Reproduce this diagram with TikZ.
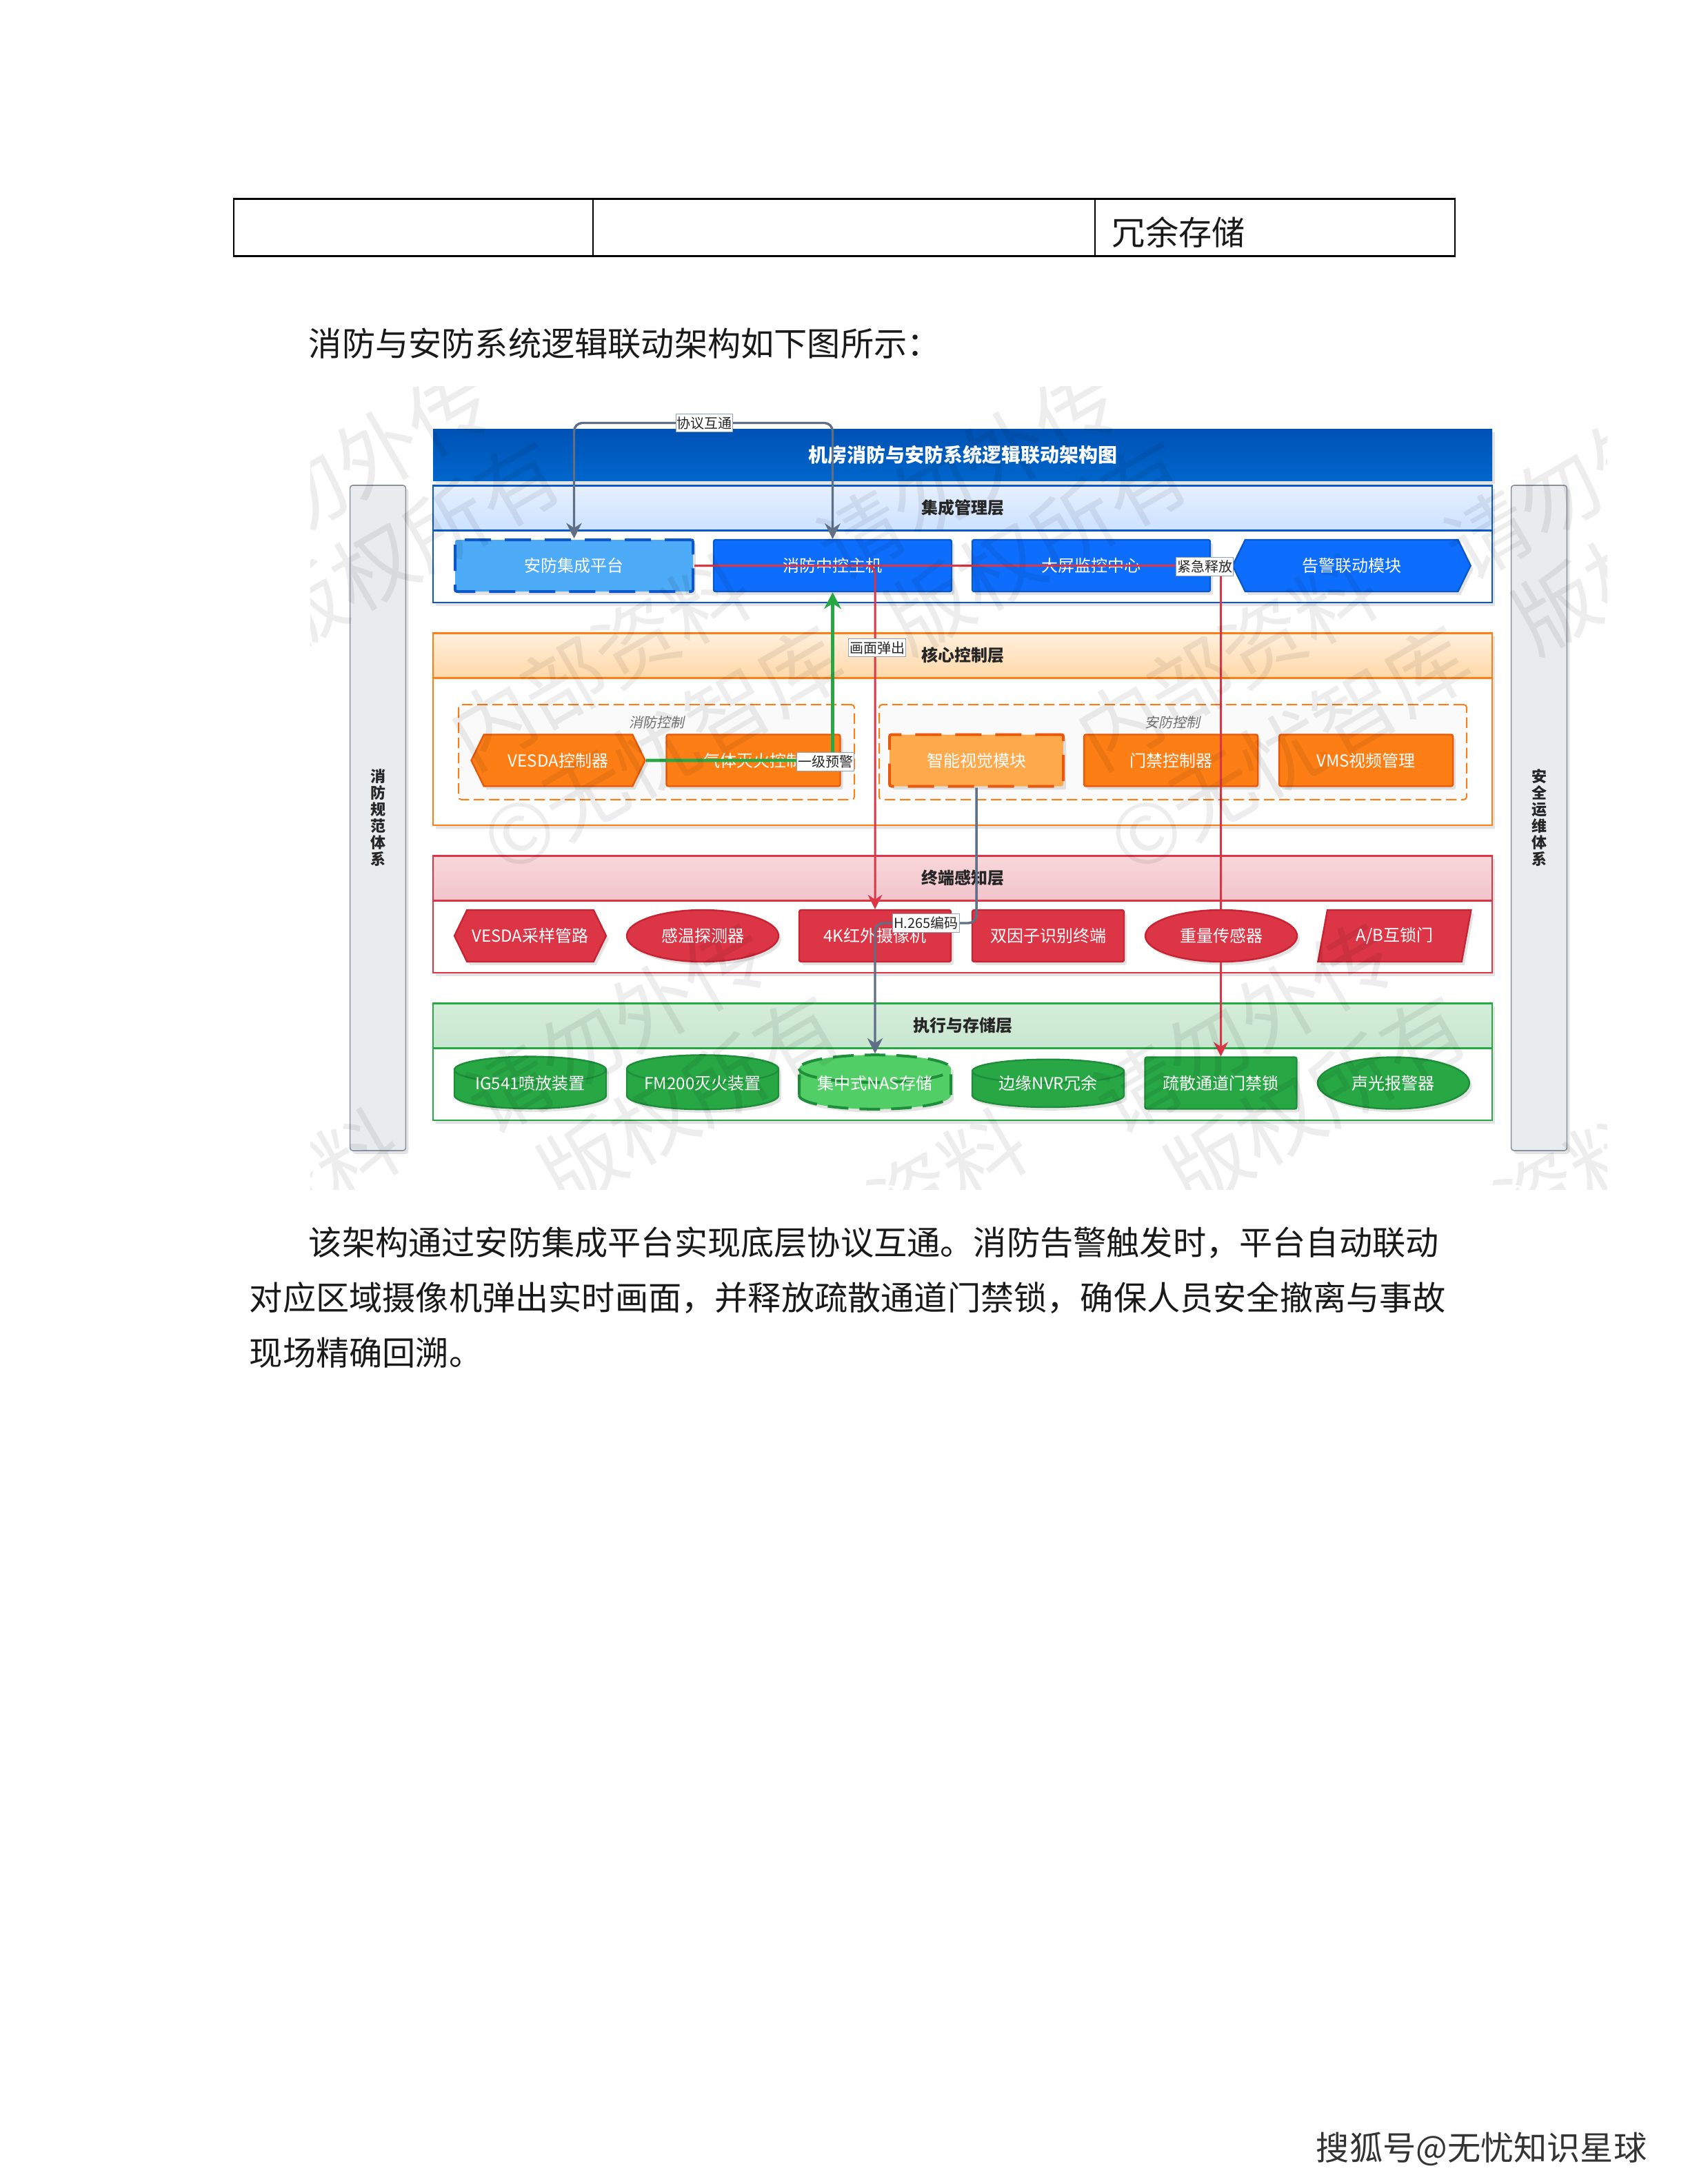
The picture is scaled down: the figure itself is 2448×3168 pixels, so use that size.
\documentclass[tikz,border=0pt]{standalone}
\usepackage{fontspec}
\setmainfont{Noto Sans CJK SC}
\newfontfamily\slantfont[FakeSlant=0.2]{Noto Sans CJK SC}
\usepackage{tikz}
\usetikzlibrary{shapes.geometric, shapes.symbols, arrows.meta, shadows}

\definecolor{bluefill}{HTML}{0D6EFD}
\definecolor{blueline}{HTML}{0A58CA}
\definecolor{bluelight}{HTML}{4DABF7}
\definecolor{orangefill}{HTML}{FD7E14}
\definecolor{orangeline}{HTML}{E8590C}
\definecolor{orangelight}{HTML}{FFA94D}
\definecolor{redfill}{HTML}{DC3545}
\definecolor{redline}{HTML}{C82333}
\definecolor{greenfill}{HTML}{28A745}
\definecolor{greenline}{HTML}{1E8E3A}
\definecolor{greenlight}{HTML}{51CF66}
\definecolor{sidefill}{HTML}{E9ECEF}
\definecolor{sideline}{HTML}{8A94A0}
\definecolor{linkgray}{HTML}{5F6F86}
\definecolor{labelline}{HTML}{8FA3B5}
\definecolor{titletop}{HTML}{0052B4}
\definecolor{titlebottom}{HTML}{0066CC}
\definecolor{inttop}{HTML}{E6F0FF}
\definecolor{intbottom}{HTML}{CCE2FF}
\definecolor{coretop}{HTML}{FFF0DC}
\definecolor{corebottom}{HTML}{FFD8A8}
\definecolor{sensetop}{HTML}{F8D7DA}
\definecolor{sensebottom}{HTML}{F1C4CB}
\definecolor{exectop}{HTML}{D4EDDA}
\definecolor{execbottom}{HTML}{C8E6CF}

\begin{document}
\begin{tikzpicture}[x=0.25pt, y=-0.25pt]
        \tikzstyle{softshadow} = [drop shadow={shadow xshift=1pt, shadow yshift=-1.2pt, opacity=0.22}]
        \tikzstyle{para} = [anchor=west, inner sep=0pt, text=black!90, font=\fontsize{12.05}{14}\selectfont]
        \tikzstyle{tablecell} = [rectangle, minimum height=20.4pt, draw=black, line width=0.3pt, inner sep=0pt]
        \tikzstyle{tableedge} = [line width=0.6pt, black]
        \tikzstyle{titlebar} = [rectangle, minimum width=384pt, minimum height=18.75pt, inner sep=0pt, top color=titletop, bottom color=titlebottom, text=white, softshadow, font=\fontsize{7}{8}\selectfont\bfseries]
        \tikzstyle{group} = [rectangle, minimum width=384pt, inner sep=0pt, fill=white, line width=0.6pt, softshadow]
        \tikzstyle{head} = [rectangle, minimum width=384pt, minimum height=16.25pt, inner sep=0pt, line width=0.7pt, anchor=north, text=black!85, font=\fontsize{6}{7}\selectfont\bfseries]
        \tikzstyle{subbox} = [rectangle, minimum height=34.4pt, inner sep=0pt, rounded corners=1pt, draw=orangefill, fill=black!2, line width=0.5pt, dash pattern=on 3.8pt off 1.7pt]
        \tikzstyle{sublabel} = [inner sep=0pt, text=black!55, font=\fontsize{5}{6}\selectfont\slantfont]
        \tikzstyle{side} = [rectangle, rounded corners=1pt, minimum width=20.2pt, minimum height=241.25pt, inner sep=0pt, align=center, draw=sideline, fill=sidefill, line width=0.4pt, softshadow, text=black!85, font=\fontsize{5.5}{6}\selectfont\bfseries]
        \tikzstyle{base} = [minimum height=18.75pt, inner sep=0pt, line width=0.6pt, text=white, softshadow, font=\fontsize{6}{7}\selectfont]
        \tikzstyle{box} = [base, rectangle, rounded corners=0.7pt]
        \tikzstyle{hexa} = [base, signal, signal to=east and west, signal pointer angle=128]
        \tikzstyle{oval} = [base, ellipse]
        \tikzstyle{can} = [base, cylinder, shape border rotate=90, aspect=0.24, minimum height=9pt, text height=2pt, text depth=2.2pt]
        \tikzstyle{slab} = [base, trapezium, trapezium left angle=61, trapezium right angle=119, trapezium stretches body]
        \tikzstyle{bluenode} = [minimum width=86.25pt, fill=bluefill, draw=blueline]
        \tikzstyle{orangenode} = [minimum width=63pt, fill=orangefill, draw=orangeline]
        \tikzstyle{rednode} = [minimum width=55pt, fill=redfill, draw=redline]
        \tikzstyle{greennode} = [minimum width=55pt, fill=greenfill, draw=greenline]
        \tikzstyle{redundant} = [line width=1pt, dash pattern=on 9.5pt off 5pt]
        \tikzstyle{greyarrow} = [draw=linkgray, line width=0.85pt, rounded corners=3pt, >={Stealth[length=5.6pt, width=5.6pt]}]
        \tikzstyle{redarrow} = [draw=redfill, line width=0.75pt, rounded corners=3pt, >={Stealth[length=5.2pt, width=5.2pt]}]
        \tikzstyle{greenarrow} = [draw=greenfill, line width=1.15pt, rounded corners=3pt, >={Stealth[length=6pt, width=6.2pt]}]
        \tikzstyle{linklabel} = [rectangle, minimum width=20.6pt, minimum height=6.6pt, inner sep=0pt, fill=white, draw=labelline, line width=0.3pt, text=black!85, font=\fontsize{5}{6}\selectfont]
        \tikzstyle{stamp} = [inner sep=0pt, rotate=30, text=black, text opacity=0.07, font=\fontsize{30}{32}\selectfont]

        \path [use as bounding box, fill=white] (0,0) rectangle (2448,3168);

        % Page text
        \node (cella) [tablecell, minimum width=130.25pt] at (599.5,330) {};
        \node (cellb) [tablecell, minimum width=182pt] at (1224,330) {};
        \node (cellc) [tablecell, minimum width=130.5pt] at (1849,330) {};
        \draw [tableedge] (cella.north west) -- (cellc.north east);
        \draw [tableedge] (cella.south west) -- (cellc.south east);
        \node (cellctext) [para] at (1612,337) {冗余存储};
        \node (intro) [para] at (447,498) {消防与安防系统逻辑联动架构如下图所示：};
        \node (bodya) [para] at (447,1803) {该架构通过安防集成平台实现底层协议互通。消防告警触发时，平台自动联动};
        \node (bodyb) [para] at (361,1883) {对应区域摄像机弹出实时画面，并释放疏散通道门禁锁，确保人员安全撤离与事故};
        \node (bodyc) [para] at (361,1962) {现场精确回溯。};
        \node (source) [para, text=black!80] at (1908,3117) {搜狐号@无忧知识星球};

        % Side columns
        \node (sideleft) [side] at (548,1186.5) {消\\防\\规\\范\\体\\系};
        \node (sideright) [side] at (2232,1186.5) {安\\全\\运\\维\\体\\系};

        % Title
        \node (title) [titlebar] at (1396,660) {机房消防与安防系统逻辑联动架构图};

        % Integration layer
        \node (intgroup) [group, draw=blueline, minimum height=42.5pt] at (1396,789) {};
        \node (inthead) [head, draw=blueline, top color=inttop, bottom color=intbottom] at (intgroup.north) {集成管理层};
        \node (platform) [box, bluenode, fill=bluelight, redundant] at (832.5,820.5) {安防集成平台};
        \node (firehost) [box, bluenode, right of=platform, node distance=93.75pt] {消防中控主机};
        \node (screen) [box, bluenode, right of=firehost, node distance=93.75pt] {大屏监控中心};
        \node (alarmmod) [hexa, bluenode, right of=screen, node distance=94.4pt] {告警联动模块};

        % Core control layer
        \node (coregroup) [group, draw=orangefill, minimum height=69.75pt] at (1396,1057.5) {};
        \node (corehead) [head, draw=orangefill, top color=coretop, bottom color=corebottom] at (coregroup.north) {核心控制层};
        \node (firebox) [subbox, minimum width=143.5pt] at (952,1091) {};
        \node (secbox) [subbox, minimum width=213pt] at (1701,1091) {};
        \node (firelabel) [sublabel] at (952.5,1048) {消防控制};
        \node (seclabel) [sublabel] at (1700,1048) {安防控制};
        \node (vesdactl) [hexa, orangenode] at (809.5,1103) {VESDA控制器};
        \node (gasctl) [box, orangenode, right of=vesdactl, node distance=70.75pt] {气体灭火控制};
        \node (vision) [box, orangenode, fill=orangelight, redundant, right of=gasctl, node distance=80.9pt] {智能视觉模块};
        \node (doorctl) [box, orangenode, right of=vision, node distance=70.5pt] {门禁控制器};
        \node (vms) [box, orangenode, right of=doorctl, node distance=70.75pt] {VMS视频管理};

        % Sensing layer
        \node (sensegroup) [group, draw=redfill, minimum height=42.5pt] at (1396,1326) {};
        \node (sensehead) [head, draw=redfill, top color=sensetop, bottom color=sensebottom] at (sensegroup.north) {终端感知层};
        \node (pipe) [hexa, rednode] at (769,1357.5) {VESDA采样管路};
        \node (heat) [oval, rednode, right of=pipe, node distance=62.5pt] {感温探测器};
        \node (camera) [box, rednode, right of=heat, node distance=62.5pt] {4K红外摄像机};
        \node (twofactor) [box, rednode, right of=camera, node distance=62.75pt] {双因子识别终端};
        \node (abdoor) [slab, rednode, minimum width=55.5pt, right of=twofactor, node distance=125.6pt] {A/B互锁门};

        % Execution and storage layer
        \node (execgroup) [group, draw=greenfill, minimum height=42.5pt] at (1396,1540) {};
        \node (exechead) [head, draw=greenfill, top color=exectop, bottom color=execbottom] at (execgroup.north) {执行与存储层};
        \node (ig) [can, greennode] at (769,1580.5) {IG541喷放装置};
        \node (fm) [can, greennode, right of=ig, node distance=62.5pt] {FM200灭火装置};
        \node (nas) [can, greennode, fill=greenlight, redundant, dash pattern=on 7.5pt off 4pt, right of=fm, node distance=62.5pt] {集中式NAS存储};
        \node (nvr) [can, greennode, right of=nas, node distance=62.75pt] {边缘NVR冗余};
        \node (exitlock) [box, greennode] at (1770.5,1571) {疏散通道门禁锁};
        \node (sounder) [oval, greennode, right of=exitlock, node distance=62.6pt] {声光报警器};

        % Arrows
        \coordinate (prototop) at (1021.5,613.5);
        \coordinate (videoturn) at (1343,1339);
        \draw [greyarrow, <->] (platform.north) |- (prototop) -| (firehost.north);
        \draw [redarrow, ->] (platform.east) -| (camera.north);
        \draw [redarrow, ->] (platform.east) -| (exitlock.north);
        \draw [greenarrow, ->] (vesdactl.east) -| (firehost.south);
        \draw [greyarrow, ->] (vision.south) |- (videoturn) -| (nas.north);

        % Weight sensor sits over the red line
        \node (weight) [oval, rednode, right of=twofactor, node distance=62.75pt] {重量传感器};

        % Arrow labels
        \node (protolabel) [linklabel] at (prototop) {协议互通};
        \node (popup) [linklabel] at (1272,939.6) {画面弹出};
        \node (release) [linklabel] at (1747,822) {紧急释放};
        \node (earlywarn) [linklabel] at (1197,1105) {一级预警};
        \node (codec) [linklabel, minimum width=24.4pt] at (videoturn) {H.265编码};

        % Watermark
        \begin{scope}
        \clip (450,560) rectangle (2330,1725);
        \foreach \markx/\marky/\marktext [count=\i] in {
            495/686/请勿外传, 1404/686/请勿外传, 2313/686/请勿外传,
            595/792/版权所有, 1504/792/版权所有, 2413/792/版权所有,
            870/960/内部资料, 1779/960/内部资料,
            961/1087/©无忧智库, 1870/1087/©无忧智库,
            895/1490/请勿外传, 1804/1490/请勿外传,
            1000/1596/版权所有, 1909/1596/版权所有,
            361/1764/内部资料, 1270/1764/内部资料, 2179/1764/内部资料}
            \node (wm\i) [stamp] at (\markx,\marky) {\marktext};
        \end{scope}
\end{tikzpicture}
\end{document}
